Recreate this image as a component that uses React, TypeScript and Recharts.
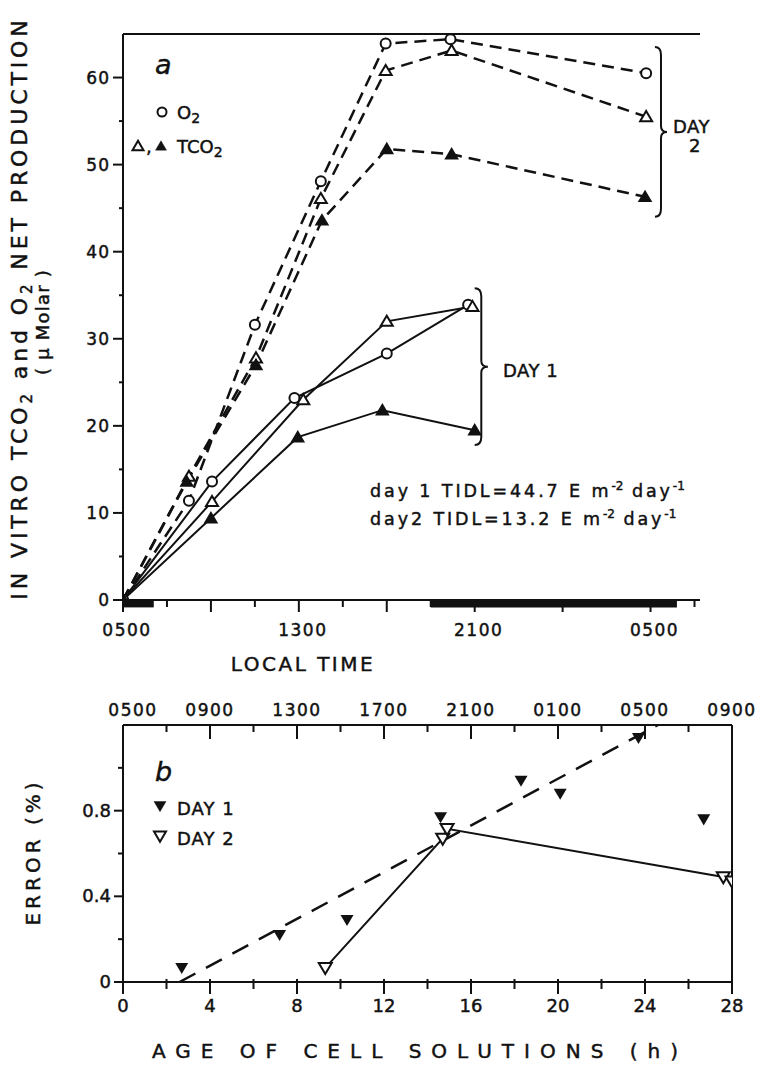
import { LineChart, ComposedChart, Line, Scatter, XAxis, YAxis, ReferenceArea, ReferenceLine } from "recharts"

// panel a: hours after 0500 (day 1) vs net production (uM)
const day1O2 = [[0, 0], [4.05, 13.6], [7.8, 23.2], [12.0, 28.3], [15.7, 33.9]]
const day1TCO2Open = [[0, 0], [4.05, 11.3], [8.2, 23.0], [12.0, 32.0], [15.9, 33.7]]
const day1TCO2Filled = [[0, 0], [4.0, 9.4], [7.95, 18.7], [11.8, 21.8], [16.0, 19.5]]
const day2O2 = [[0, 0], [3.0, 11.4], [6.0, 31.6], [9.0, 48.1], [11.95, 63.9], [14.9, 64.4], [23.8, 60.5]]
const day2TCO2Open = [[0, 0], [3.0, 14.2], [6.05, 27.8], [9.0, 46.1], [11.95, 60.8], [14.95, 63.1], [23.8, 55.5]]
const day2TCO2Filled = [[0, 0], [2.9, 13.6], [6.05, 27.0], [9.05, 43.6], [12.0, 51.8], [14.95, 51.2], [23.75, 46.3]]
const darkStart = [0, 14.0]
const darkEnd = [1.4, 25.2]
const localTimeTicks = [0, 2, 4, 6, 8, 10, 12, 14, 16, 18, 20, 22, 24, 26]
const localTimeLabels: Record<number, string> = { 0: "0500", 8: "1300", 16: "2100", 24: "0500" }
const productionTicks = [0, 5, 10, 15, 20, 25, 30, 35, 40, 45, 50, 55, 60]

// panel b: age of cell solutions (h) vs error (%)
const errDay1 = [[2.7, 0.066], [7.2, 0.22], [10.3, 0.29], [14.6, 0.77], [18.3, 0.94], [20.1, 0.88], [23.7, 1.14], [26.7, 0.76]]
const errDay2 = [[9.3, 0.066], [14.7, 0.67], [14.9, 0.715], [27.6, 0.49], [28.0, 0.47]]
const day1Fit = [[2.6, 0], [24.6, 1.2]]
const ageTicks = [0, 2, 4, 6, 8, 10, 12, 14, 16, 18, 20, 22, 24, 26, 28]
const clockLabels: Record<number, string> = { 0: "0500", 4: "0900", 8: "1300", 12: "1700", 16: "2100", 20: "0100", 24: "0500", 28: "0900" }
const errorTicks = [0, 0.2, 0.4, 0.6, 0.8, 1.0]
const errorLabels: Record<string, string> = { "0": "0", "0.4": "0.4", "0.8": "0.8" }

const FONT = "'DejaVu Sans', sans-serif"
const INK = "#111"
const HEAVY = { stroke: INK, strokeWidth: 0.45 }

const toPts = (arr: number[][]) => arr.map(([x, y]) => ({ x, y }))

const tri = (cx: number, cy: number, s: number, down: boolean) =>
  down
    ? `M${cx - s},${cy - s * 0.75}L${cx + s},${cy - s * 0.75}L${cx},${cy + s * 0.95}Z`
    : `M${cx - s},${cy + s * 0.75}L${cx + s},${cy + s * 0.75}L${cx},${cy - s * 0.95}Z`

const openCircle = (p: any) => (
  <circle key={`c${p.index}`} cx={p.cx} cy={p.cy} r={5} fill="#fff" stroke={INK} strokeWidth={2} />
)
const openUp = (p: any) => (
  <path key={`u${p.index}`} d={tri(p.cx, p.cy, 6, false)} fill="#fff" stroke={INK} strokeWidth={2} />
)
const filledUp = (p: any) => (
  <path key={`f${p.index}`} d={tri(p.cx, p.cy, 6, false)} fill={INK} stroke={INK} strokeWidth={1.5} />
)
const openDown = (p: any) => (
  <path key={`d${p.index}`} d={tri(p.cx, p.cy, 6.5, true)} fill="#fff" stroke={INK} strokeWidth={2} />
)
const filledDown = (p: any) => <path d={tri(p.cx, p.cy, 6.5, true)} fill={INK} />

const brace = (p: any) => {
  const { x, y, width: w, height: h } = p
  const m = x + w / 2
  const c = y + h / 2
  const d = `M${x},${y} Q${m},${y} ${m},${y + 8} L${m},${c - 6} Q${m},${c} ${x + w},${c} Q${m},${c} ${m},${c + 6} L${m},${y + h - 8} Q${m},${y + h} ${x},${y + h}`
  return <path d={d} fill="none" stroke={INK} strokeWidth={2} />
}

const localTimeTick = (p: any) => {
  const v = p.payload.value
  const major = v % 4 === 0
  return (
    <g>
      <line x1={p.x} x2={p.x} y1={p.y} y2={p.y + (major ? 12 : 7)} stroke={INK} strokeWidth={2} />
      {localTimeLabels[v] && (
        <text x={p.x + 4} y={p.y + 36} textAnchor="middle" fontSize={17} letterSpacing={1.5} fontFamily={FONT} fill={INK} {...HEAVY}>
          {localTimeLabels[v]}
        </text>
      )}
    </g>
  )
}

const productionTick = (p: any) => {
  const v = p.payload.value
  const major = v % 10 === 0
  return (
    <g>
      <line x1={p.x - (major ? 10 : 4)} x2={p.x} y1={p.y} y2={p.y} stroke={INK} strokeWidth={2} />
      {major && (
        <text x={p.x - 13} y={p.y + 6} textAnchor="end" fontSize={17} letterSpacing={1} fontFamily={FONT} fill={INK} {...HEAVY}>
          {v}
        </text>
      )}
    </g>
  )
}

const ageTick = (p: any) => {
  const v = p.payload.value
  const major = v % 4 === 0
  return (
    <g>
      <line x1={p.x} x2={p.x} y1={p.y - 3} y2={p.y + (major ? 12 : 7)} stroke={INK} strokeWidth={2} />
      {major && (
        <text x={p.x} y={p.y + 30} textAnchor="middle" fontSize={18} fontFamily={FONT} fill={INK} {...HEAVY}>
          {v}
        </text>
      )}
    </g>
  )
}

const clockTick = (p: any) => {
  const v = p.payload.value
  const major = v % 4 === 0
  return (
    <g>
      <line x1={p.x} x2={p.x} y1={p.y} y2={p.y + (major ? 14 : 7)} stroke={INK} strokeWidth={2} />
      {clockLabels[v] && (
        <text x={p.x + (v === 0 ? 10 : 0)} y={p.y - 9} textAnchor="middle" fontSize={17} letterSpacing={1.5} fontFamily={FONT} fill={INK} {...HEAVY}>
          {clockLabels[v]}
        </text>
      )}
    </g>
  )
}

const errorTick = (p: any) => {
  const v = p.payload.value
  const key = String(Math.round(v * 10) / 10)
  const label = errorLabels[key]
  return (
    <g>
      <line x1={p.x - (label ? 9 : 5)} x2={p.x} y1={p.y} y2={p.y} stroke={INK} strokeWidth={2} />
      {label && (
        <text x={p.x - 12} y={p.y + 6} textAnchor="end" fontSize={18} fontFamily={FONT} fill={INK} {...HEAVY}>
          {label}
        </text>
      )}
    </g>
  )
}

const axisLine = { stroke: INK, strokeWidth: 2 }

export default function App() {
  return (
    <div style={{ position: "absolute", left: 0, top: 0, width: 772, height: 1080, background: "#fff", fontFamily: FONT }}>
      <div style={{ position: "absolute", left: 0, top: 0 }}>
        <LineChart width={772} height={700} margin={{ top: 34, right: 72, bottom: 0, left: 0 }}>
          <XAxis
            dataKey="x"
            type="number"
            domain={[0, 26.25]}
            ticks={localTimeTicks}
            interval={0}
            height={100}
            tickSize={0}
            tickMargin={0}
            tickLine={false}
            axisLine={axisLine}
            tick={localTimeTick}
            allowDataOverflow
          />
          <YAxis
            type="number"
            domain={[0, 65]}
            ticks={productionTicks}
            interval={0}
            width={123}
            tickSize={0}
            tickMargin={0}
            tickLine={false}
            axisLine={axisLine}
            tick={productionTick}
            allowDataOverflow
          />
          <ReferenceLine y={65} stroke={INK} strokeWidth={2} />
          {darkStart.map((s, i) => (
            <ReferenceArea key={i} x1={s} x2={darkEnd[i]} y1={-0.85} y2={0} fill={INK} fillOpacity={1} stroke="none" ifOverflow="visible" />
          ))}
          <ReferenceArea x1={24.2} x2={24.75} y1={44.0} y2={63.5} shape={brace} ifOverflow="visible" />
          <ReferenceArea x1={16.0} x2={16.6} y1={17.8} y2={35.8} shape={brace} ifOverflow="visible" />
          <Line data={toPts(day2O2)} dataKey="y" stroke={INK} strokeWidth={2.5} strokeDasharray="12 7" dot={openCircle} activeDot={false} isAnimationActive={false} />
          <Line data={toPts(day2TCO2Open)} dataKey="y" stroke={INK} strokeWidth={2.5} strokeDasharray="12 7" dot={openUp} activeDot={false} isAnimationActive={false} />
          <Line data={toPts(day2TCO2Filled)} dataKey="y" stroke={INK} strokeWidth={2.5} strokeDasharray="12 7" dot={filledUp} activeDot={false} isAnimationActive={false} />
          <Line data={toPts(day1O2)} dataKey="y" stroke={INK} strokeWidth={2} dot={openCircle} activeDot={false} isAnimationActive={false} />
          <Line data={toPts(day1TCO2Open)} dataKey="y" stroke={INK} strokeWidth={2} dot={openUp} activeDot={false} isAnimationActive={false} />
          <Line data={toPts(day1TCO2Filled)} dataKey="y" stroke={INK} strokeWidth={2} dot={filledUp} activeDot={false} isAnimationActive={false} />
        </LineChart>
      </div>

      <div style={{ position: "absolute", left: 0, top: 680 }}>
        <ComposedChart width={772} height={400} margin={{ top: 0, right: 40, bottom: 0, left: 0 }}>
          <XAxis
            xAxisId="age"
            dataKey="x"
            type="number"
            domain={[0, 28]}
            ticks={ageTicks}
            interval={0}
            height={98}
            tickSize={0}
            tickMargin={0}
            tickLine={false}
            axisLine={axisLine}
            tick={ageTick}
            allowDataOverflow
          />
          <XAxis
            xAxisId="clock"
            orientation="top"
            dataKey="x"
            type="number"
            domain={[0, 28]}
            ticks={ageTicks}
            interval={0}
            height={45}
            tickSize={0}
            tickMargin={0}
            tickLine={false}
            axisLine={axisLine}
            tick={clockTick}
            allowDataOverflow
          />
          <YAxis
            type="number"
            dataKey="y"
            domain={[0, 1.2]}
            ticks={errorTicks}
            interval={0}
            width={123}
            tickSize={0}
            tickMargin={0}
            tickLine={false}
            axisLine={axisLine}
            tick={errorTick}
            allowDataOverflow
          />
          <ReferenceLine xAxisId="age" x={28} stroke={INK} strokeWidth={2} />
          <Line xAxisId="age" data={toPts(day1Fit)} dataKey="y" stroke={INK} strokeWidth={2.5} strokeDasharray="18 12" dot={false} activeDot={false} isAnimationActive={false} />
          <Line xAxisId="age" data={toPts(errDay2)} dataKey="y" stroke={INK} strokeWidth={2} dot={openDown} activeDot={false} isAnimationActive={false} />
          <Scatter xAxisId="clock" data={toPts(errDay1)} dataKey="y" shape={filledDown} isAnimationActive={false} />
        </ComposedChart>
      </div>

      <svg width={772} height={1080} style={{ position: "absolute", left: 0, top: 0, pointerEvents: "none" }} fontFamily={FONT} fill={INK} stroke={INK} strokeWidth={0.45}>
        {/* panel a labels */}
        <text transform="translate(27,308) rotate(-90)" textAnchor="middle" fontSize={22} letterSpacing={3.9}>
          IN VITRO TCO<tspan dy={5} fontSize={15}>2</tspan>
          <tspan dy={-5}> and O</tspan>
          <tspan dy={5} fontSize={15}>2</tspan>
          <tspan dy={-5}> NET PRODUCTION</tspan>
        </text>
        <text transform="translate(49,322) rotate(-90)" textAnchor="middle" fontSize={18} letterSpacing={1.2}>
          ( μ Molar )
        </text>
        <text x={303} y={671} textAnchor="middle" fontSize={20} letterSpacing={2.5}>LOCAL TIME</text>
        <text x={155} y={74} fontSize={27} fontStyle="italic">a</text>
        <circle cx={162} cy={112} r={4.5} fill="#fff" stroke={INK} strokeWidth={2} />
        <text x={177} y={119} fontSize={18}>O<tspan dy={4} fontSize={14}>2</tspan></text>
        <path d={tri(138, 146, 5.5, false)} fill="#fff" stroke={INK} strokeWidth={2} />
        <text x={146} y={153} fontSize={18}>,</text>
        <path d={tri(161, 146, 5.5, false)} fill={INK} />
        <text x={177} y={153} fontSize={18}>TCO<tspan dy={4} fontSize={14}>2</tspan></text>
        <text x={673} y={133} fontSize={18} letterSpacing={0.5}>DAY</text>
        <text x={689} y={152} fontSize={18}>2</text>
        <text x={503} y={377} fontSize={18} letterSpacing={0.5}>DAY 1</text>
        <text x={370} y={497} fontSize={17.5} letterSpacing={2.9}>
          day 1 TIDL=44.7 E m<tspan dy={-7} fontSize={12} letterSpacing={0}>-2</tspan>
          <tspan dy={7}> day</tspan>
          <tspan dy={-7} fontSize={12} letterSpacing={0}>-1</tspan>
        </text>
        <text x={370} y={525} fontSize={17.5} letterSpacing={2.9}>
          day2 TIDL=13.2  E m<tspan dy={-7} fontSize={12} letterSpacing={0}>-2</tspan>
          <tspan dy={7}> day</tspan>
          <tspan dy={-7} fontSize={12} letterSpacing={0}>-1</tspan>
        </text>

        {/* panel b labels */}
        <text transform="translate(40,852) rotate(-90)" textAnchor="middle" fontSize={20} letterSpacing={4}>ERROR (%)</text>
        <text x={420} y={1058} textAnchor="middle" fontSize={20} letterSpacing={10}>AGE OF CELL SOLUTIONS (h)</text>
        <text x={155} y={781} fontSize={27} fontStyle="italic">b</text>
        <path d={tri(160, 806, 6, true)} fill={INK} />
        <text x={177} y={815} fontSize={18} letterSpacing={1}>DAY 1</text>
        <path d={tri(160, 836, 6, true)} fill="#fff" stroke={INK} strokeWidth={2} />
        <text x={177} y={845} fontSize={18} letterSpacing={1}>DAY 2</text>
      </svg>
    </div>
  )
}
